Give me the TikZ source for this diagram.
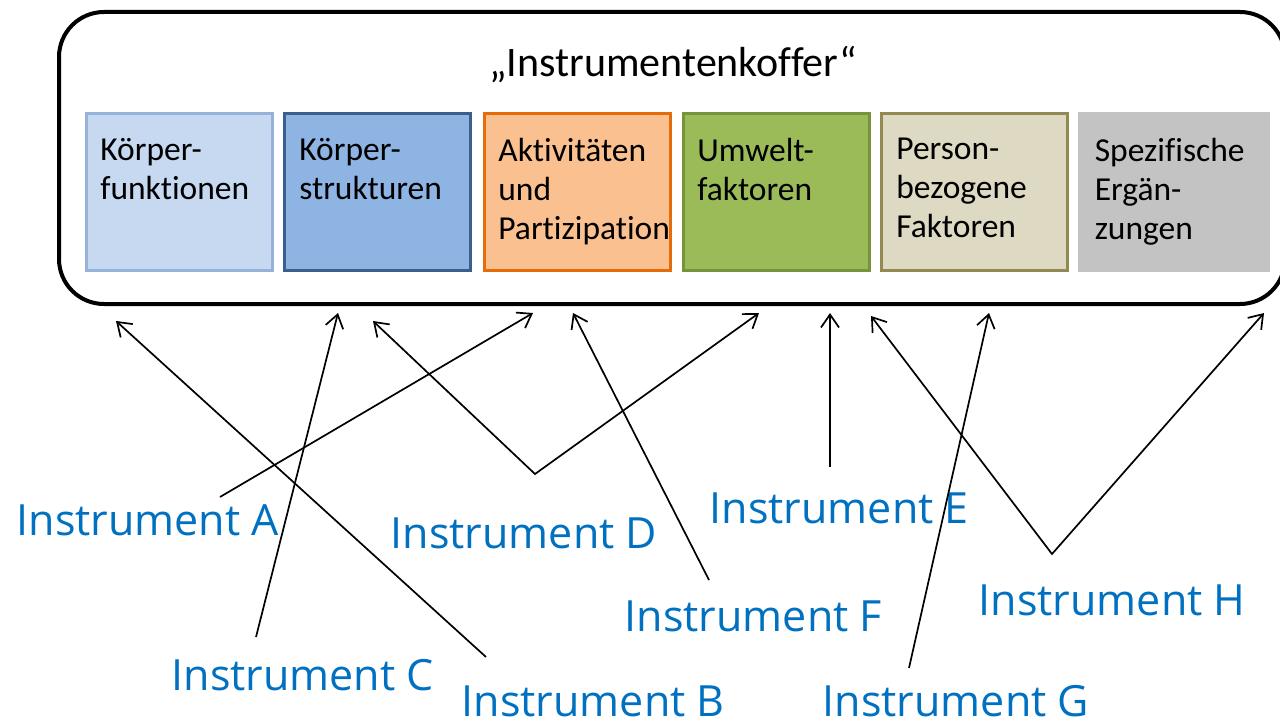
\documentclass[tikz,border=0pt]{standalone}
\usepackage{fontspec}
\setmainfont[Ligatures=NoCommon]{Carlito}
\newfontfamily\instrfont{Open Sans}
\usetikzlibrary{positioning,arrows.meta}

\definecolor{kfFill}{HTML}{C6D9F1}
\definecolor{kfLine}{HTML}{95B3D7}
\definecolor{ksFill}{HTML}{8EB4E3}
\definecolor{ksLine}{HTML}{3A5F8B}
\definecolor{apFill}{HTML}{FAC08F}
\definecolor{apLine}{HTML}{E46C0A}
\definecolor{ufFill}{HTML}{9BBB59}
\definecolor{ufLine}{HTML}{77933C}
\definecolor{pfFill}{HTML}{DDD9C3}
\definecolor{pfLine}{HTML}{938953}
\definecolor{seFill}{HTML}{C3C3C3}
\definecolor{instrBlue}{HTML}{0070C0}

\tikzset{
  factor/.style={draw, line width=3pt, minimum width=186pt, minimum height=157pt,
    anchor=north west, inner sep=0pt},
  factortext/.style={inner sep=0pt, align=left, font=\fontsize{33.5}{39}\selectfont},
  instr/.style={anchor=base west, inner sep=0pt, text=instrBlue,
    font=\instrfont\fontsize{43}{50}\selectfont},
}

\begin{document}
\begin{tikzpicture}[x=1pt, y=-1pt, >={Straight Barb[length=13pt,width=18pt]},
    line width=1.7pt]
  \useasboundingbox (0,0) rectangle (1280,725);

  % the case
  \node (koffer) [draw, line width=4pt, rounded corners=45pt, minimum width=1226pt,
    minimum height=292pt, anchor=north west, inner sep=0pt] at (57,10) {};
  \node (title) [anchor=base, inner sep=0pt, font=\fontsize{42}{50}\selectfont]
    at (673,77) {„Instrumentenkoffer“};

  % ICF components
  \node (kf) [factor, fill=kfFill, draw=kfLine] at (84.5,111.5) {};
  \node (ks) [factor, fill=ksFill, draw=ksLine] at (282.5,111.5) {};
  \node (ap) [factor, fill=apFill, draw=apLine] at (482.5,111.5) {};
  \node (uf) [factor, fill=ufFill, draw=ufLine] at (681.5,111.5) {};
  \node (pf) [factor, fill=pfFill, draw=pfLine] at (879.5,111.5) {};
  \node (se) [factor, fill=seFill, draw=none, minimum width=192pt, minimum height=160pt]
    at (1076,110) {};

  \node (kft) [factortext, below right=26pt and 15pt of kf.north west]
    {Körper-\\funktionen};
  \node (kst) [factortext, below right=26pt and 16pt of ks.north west]
    {Körper-\\strukturen};
  \node (apt) [factortext, below right=26pt and 15pt of ap.north west]
    {Aktivitäten\\und\\Partizipation};
  \node (uft) [factortext, below right=26pt and 15pt of uf.north west]
    {Umwelt-\\faktoren};
  \node (pft) [factortext, below right=26pt and 16pt of pf.north west]
    {Person-\\bezogene\\Faktoren};
  \node (set) [factortext, below right=27pt and 18pt of se.north west]
    {Spezifische\\Ergän-\\zungen};

  % instruments
  \node (instrA) [instr] at (16,535) {Instrument A};
  \node (instrB) [instr] at (461,716) {Instrument B};
  \node (instrC) [instr] at (171,690) {Instrument C};
  \node (instrD) [instr] at (390,548) {Instrument D};
  \node (instrE) [instr] at (709,523) {Instrument E};
  \node (instrF) [instr] at (624,631) {Instrument F};
  \node (instrG) [instr] at (822,716) {Instrument G};
  \node (instrH) [instr] at (978,615) {Instrument H};

  % arrow ends
  \coordinate (sA) at (220,497);   \coordinate (tA) at (533,313);
  \coordinate (sB) at (486,657);   \coordinate (tB) at (116,321);
  \coordinate (sC) at (256,637);   \coordinate (tC) at (338,313);
  \coordinate (sD) at (535,474);   \coordinate (tD1) at (373,321);
  \coordinate (tD2) at (759,313);
  \coordinate (sE) at (830,467);   \coordinate (tE) at (830,313);
  \coordinate (sF) at (709,580);   \coordinate (tF) at (573,313);
  \coordinate (sG) at (909,668);   \coordinate (tG) at (989,313);
  \coordinate (sH) at (1052,554);  \coordinate (tH1) at (871,316);
  \coordinate (tH2) at (1264,313);

  \draw[->] (sA) -- (tA);
  \draw[->] (sB) -- (tB);
  \draw[->] (sC) -- (tC);
  \draw[<->] (tD1) -- (sD) -- (tD2);
  \draw[->] (sE) -- (tE);
  \draw[->] (sF) -- (tF);
  \draw[->] (sG) -- (tG);
  \draw[<->] (tH1) -- (sH) -- (tH2);
\end{tikzpicture}
\end{document}
